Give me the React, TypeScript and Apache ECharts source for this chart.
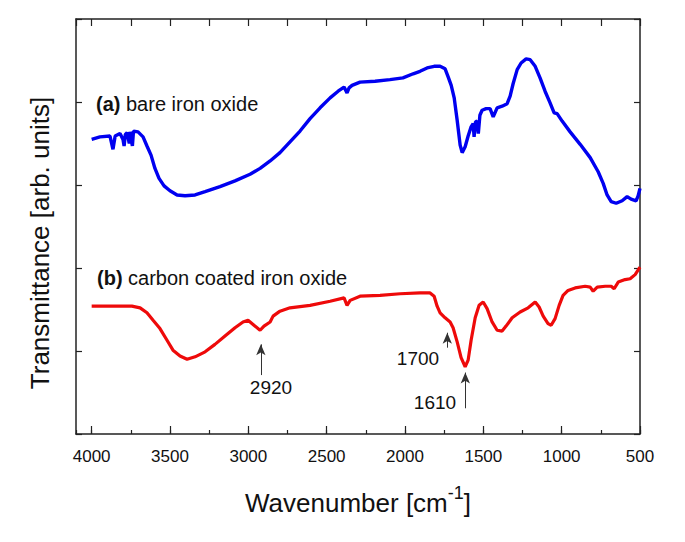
import React, { useEffect, useRef } from "react";
import * as echarts from "echarts";

// Wavenumber (cm^-1), transmittance (arb. units) pairs
const bareIronOxide: [number, number][] = [
  [4000, 3.55], [3947, 3.58], [3883, 3.59], [3864, 3.43], [3850, 3.59], [3819, 3.62],
  [3800, 3.55], [3793, 3.47], [3785, 3.61], [3774, 3.63], [3760, 3.50], [3755, 3.64],
  [3745, 3.52], [3740, 3.47], [3733, 3.65], [3704, 3.64], [3672, 3.58], [3647, 3.47],
  [3621, 3.36], [3596, 3.20], [3570, 3.08], [3538, 2.99], [3500, 2.93], [3455, 2.88],
  [3404, 2.87], [3340, 2.88], [3276, 2.92], [3181, 2.98], [3085, 3.05], [2989, 3.13],
  [2925, 3.20], [2861, 3.29], [2798, 3.39], [2734, 3.52], [2670, 3.65], [2606, 3.80],
  [2542, 3.93], [2478, 4.05], [2427, 4.13], [2389, 4.18], [2370, 4.11], [2357, 4.17],
  [2338, 4.20], [2287, 4.24], [2191, 4.25], [2096, 4.27], [2013, 4.29], [1948, 4.34],
  [1904, 4.37], [1859, 4.41], [1814, 4.43], [1776, 4.43], [1744, 4.40], [1724, 4.30],
  [1705, 4.20], [1686, 4.05], [1667, 3.78], [1648, 3.48], [1635, 3.39], [1616, 3.46],
  [1597, 3.59], [1578, 3.70], [1565, 3.74], [1559, 3.58], [1550, 3.76], [1540, 3.77],
  [1532, 3.62], [1522, 3.84], [1508, 3.90], [1482, 3.92], [1457, 3.92], [1437, 3.82],
  [1412, 3.93], [1380, 3.95], [1348, 3.98], [1329, 4.07], [1310, 4.22], [1284, 4.39],
  [1259, 4.47], [1227, 4.52], [1201, 4.51], [1169, 4.43], [1138, 4.29], [1106, 4.13],
  [1074, 3.99], [1048, 3.87], [1029, 3.86], [997, 3.77], [946, 3.64], [882, 3.49],
  [818, 3.33], [767, 3.16], [735, 3.02], [710, 2.88], [684, 2.80], [652, 2.78],
  [614, 2.81], [582, 2.86], [557, 2.83], [525, 2.81], [512, 2.87], [500, 2.96],
];

const carbonCoatedIronOxide: [number, number][] = [
  [4000, 1.54], [3883, 1.54], [3743, 1.54], [3691, 1.52], [3647, 1.46], [3608, 1.37],
  [3564, 1.27], [3519, 1.13], [3481, 1.01], [3436, 0.94], [3391, 0.90], [3340, 0.93],
  [3276, 0.99], [3213, 1.08], [3149, 1.18], [3085, 1.28], [3034, 1.35], [3002, 1.37],
  [2964, 1.31], [2925, 1.25], [2900, 1.30], [2861, 1.35], [2842, 1.42], [2798, 1.48],
  [2734, 1.52], [2606, 1.55], [2478, 1.60], [2389, 1.64], [2370, 1.55], [2350, 1.61],
  [2287, 1.66], [2159, 1.67], [2031, 1.69], [1904, 1.70], [1840, 1.70], [1814, 1.66],
  [1795, 1.54], [1776, 1.46], [1744, 1.40], [1712, 1.35], [1693, 1.28], [1667, 1.11],
  [1642, 0.92], [1616, 0.81], [1597, 0.89], [1578, 1.13], [1552, 1.40], [1527, 1.55],
  [1501, 1.59], [1476, 1.51], [1444, 1.35], [1412, 1.25], [1380, 1.24], [1355, 1.30],
  [1316, 1.40], [1265, 1.47], [1214, 1.52], [1169, 1.59], [1144, 1.53], [1118, 1.42],
  [1087, 1.33], [1067, 1.31], [1042, 1.39], [1016, 1.55], [991, 1.67], [959, 1.73],
  [914, 1.76], [850, 1.78], [818, 1.77], [799, 1.72], [773, 1.77], [722, 1.78],
  [684, 1.78], [665, 1.75], [639, 1.83], [595, 1.86], [563, 1.87], [531, 1.92],
  [500, 2.01],
];

// Annotation arrows: [wavenumber, start value, end value]
const arrowWavenumbers = [2920, 1730, 1615];
const arrowStarts = [0.71, 1.04, 0.31];
const arrowEnds = [1.08, 1.22, 0.74];

const FONT = "Liberation Sans, Arial, sans-serif";
const AXIS_COLOR = "#222";

export default function App() {
  const ref = useRef<HTMLDivElement>(null);

  useEffect(() => {
    if (!ref.current) return;
    const chart = echarts.init(ref.current, undefined, { renderer: "svg" });

    const xBase = {
      type: "value",
      min: 500,
      max: 4100,
      inverse: true,
      splitLine: { show: false },
      axisLine: { onZero: false, lineStyle: { color: AXIS_COLOR, width: 1.5 } },
    };
    const yBase = {
      type: "value",
      min: 0,
      max: 5,
      interval: 1,
      splitLine: { show: false },
      axisLabel: { show: false },
      axisTick: { show: true, inside: true, length: 6, lineStyle: { color: AXIS_COLOR, width: 1.2 } },
      axisLine: { show: true, onZero: false, lineStyle: { color: AXIS_COLOR, width: 1.5 } },
    };

    chart.setOption({
      animation: false,
      backgroundColor: "#fff",
      grid: { left: 76, right: 45, top: 19, bottom: 108, containLabel: false },
      xAxis: [
        {
          ...xBase,
          position: "bottom",
          interval: 500,
          axisTick: { show: true, inside: true, length: 8, lineStyle: { color: AXIS_COLOR, width: 1.2 } },
          axisLabel: {
            show: true,
            showMaxLabel: false,
            fontSize: 17,
            color: "#111",
            fontFamily: FONT,
            margin: 14,
            formatter: (v: number) => String(v),
          },
        },
        {
          ...xBase,
          position: "bottom",
          interval: 250,
          axisLine: { show: false, onZero: false },
          axisTick: { show: true, inside: true, length: 4, lineStyle: { color: AXIS_COLOR, width: 1.2 } },
          axisLabel: { show: false },
        },
        {
          ...xBase,
          position: "top",
          interval: 250,
          axisTick: { show: true, inside: true, length: 7, lineStyle: { color: AXIS_COLOR, width: 1.2 } },
          axisLabel: { show: false },
        },
      ],
      yAxis: [
        { ...yBase, position: "left" },
        { ...yBase, position: "right" },
      ],
      series: [
        {
          name: "(a) bare iron oxide",
          type: "line",
          xAxisIndex: 0,
          yAxisIndex: 0,
          data: bareIronOxide,
          showSymbol: false,
          lineStyle: { color: "#0000f0", width: 3.4 },
          itemStyle: { color: "#0000f0" },
        },
        {
          name: "(b) carbon coated iron oxide",
          type: "line",
          xAxisIndex: 0,
          yAxisIndex: 0,
          data: carbonCoatedIronOxide,
          showSymbol: false,
          lineStyle: { color: "#ee0a0a", width: 3.2 },
          itemStyle: { color: "#ee0a0a" },
          markLine: {
            silent: true,
            symbol: ["none", "arrow"],
            symbolSize: [7, 11],
            label: { show: false },
            lineStyle: { color: "#333", width: 1, type: "solid" },
            data: arrowWavenumbers.map((w, i) => [
              { coord: [w, arrowStarts[i]] },
              { coord: [w, arrowEnds[i]] },
            ]),
          },
        },
      ],
      graphic: [
        {
          type: "text",
          x: 96,
          y: 104,
          style: {
            text: "{b|(a)} bare iron oxide",
            fontSize: 20,
            fontFamily: FONT,
            fill: "#111",
            verticalAlign: "middle",
            rich: { b: { fontSize: 20, fontWeight: "bold", fontFamily: FONT, fill: "#111" } },
          },
        },
        {
          type: "text",
          x: 97,
          y: 278,
          style: {
            text: "{b|(b)} carbon coated iron oxide",
            fontSize: 20,
            fontFamily: FONT,
            fill: "#111",
            verticalAlign: "middle",
            rich: { b: { fontSize: 20, fontWeight: "bold", fontFamily: FONT, fill: "#111" } },
          },
        },
        {
          type: "text",
          x: 271,
          y: 387,
          style: { text: "2920", fontSize: 19, fontFamily: FONT, fill: "#111", align: "center", verticalAlign: "middle" },
        },
        {
          type: "text",
          x: 418,
          y: 358,
          style: { text: "1700", fontSize: 19, fontFamily: FONT, fill: "#111", align: "center", verticalAlign: "middle" },
        },
        {
          type: "text",
          x: 435,
          y: 402,
          style: { text: "1610", fontSize: 19, fontFamily: FONT, fill: "#111", align: "center", verticalAlign: "middle" },
        },
        {
          type: "text",
          x: 40,
          y: 243,
          rotation: Math.PI / 2,
          style: {
            text: "Transmittance [arb. units]",
            fontSize: 26,
            fontFamily: FONT,
            fill: "#111",
            align: "center",
            verticalAlign: "middle",
          },
        },
        {
          type: "text",
          x: 358,
          y: 500,
          style: {
            text: "{a|Wavenumber [cm}{s|-1}{a|]}",
            fontFamily: FONT,
            fill: "#111",
            align: "center",
            verticalAlign: "middle",
            rich: {
              a: { fontSize: 26, fontFamily: FONT, fill: "#111", verticalAlign: "bottom" },
              s: { fontSize: 18, fontFamily: FONT, fill: "#111", verticalAlign: "bottom", padding: [0, 0, 14, 0] },
            },
          },
        },
      ],
    });

    return () => chart.dispose();
  }, []);

  return (
    <div
      ref={ref}
      style={{ position: "fixed", left: 0, top: 0, width: 685, height: 542, background: "#fff" }}
    />
  );
}
